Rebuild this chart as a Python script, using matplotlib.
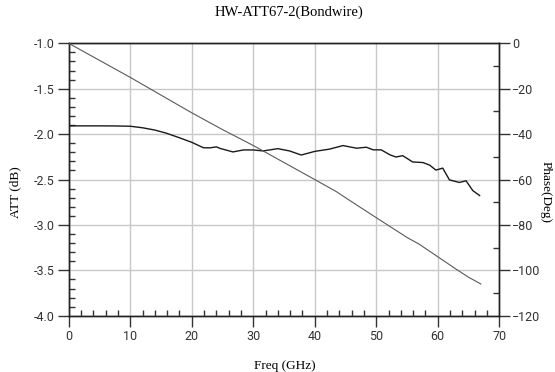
import numpy as np
import matplotlib.pyplot as plt
from matplotlib.ticker import MultipleLocator

# ATT (dB) versus frequency
freq_att = [0, 5, 7.5, 10, 12, 14, 15.9, 18, 20, 21.9, 23, 24, 24.6, 26.7, 28.4, 30,
            31.6, 34, 35.9, 37.8, 40, 42.4, 44.6, 46.8, 48.4, 49.5, 50.8, 52.2, 53.2,
            54.3, 55.9, 57.6, 58.7, 59.7, 60.8, 61.9, 63.5, 64.6, 65.7, 66.8]
att = [-1.909, -1.909, -1.910, -1.913, -1.93, -1.955, -1.99, -2.04, -2.09, -2.15, -2.151,
       -2.14, -2.157, -2.196, -2.174, -2.174, -2.185, -2.16, -2.185, -2.23, -2.19, -2.165,
       -2.126, -2.155, -2.144, -2.173, -2.173, -2.227, -2.252, -2.237, -2.306, -2.313,
       -2.342, -2.396, -2.374, -2.504, -2.532, -2.514, -2.622, -2.676]

# phase (deg) versus frequency
freq_ph = [0, 5, 10, 15, 20, 25, 30, 35, 40, 43.5, 45, 50, 55, 57, 60, 63, 65, 67]
phase = [0, -7.5, -15, -22.8, -30.6, -38, -45, -52.5, -60, -65.3, -68, -76.8, -85.5,
         -88.5, -94, -99.5, -103, -106]

plt.rcParams['font.family'] = ['Roboto', 'DejaVu Sans']

fig = plt.figure(figsize=(5.55, 3.72), dpi=100)
ax = fig.add_axes([0.1238, 0.1511, 0.7758, 0.7325])
ax2 = ax.twinx()

ax.plot(freq_att, att, color='#1a1a1a', lw=1.0, zorder=3)
ax2.plot(freq_ph, phase, color='#5a5a5a', lw=0.8, zorder=3)

ax.set_xlim(0, 70)
ax.set_ylim(-4.0, -1.0)
ax2.set_ylim(-120, 0)

ax.xaxis.set_major_locator(MultipleLocator(10))
ax.xaxis.set_minor_locator(MultipleLocator(2))
ax.yaxis.set_major_locator(MultipleLocator(0.5))
ax.yaxis.set_minor_locator(MultipleLocator(0.1))
ax2.yaxis.set_major_locator(MultipleLocator(20))
ax2.yaxis.set_minor_locator(MultipleLocator(10))

ax.grid(True, which='major', color='#c8c8c8', lw=1.0)
ax.set_axisbelow(True)

ax.tick_params(which='major', direction='out', length=8, width=1, labelsize=9,
               colors='#333333', pad=2)
ax.tick_params(which='minor', direction='in', length=4.5, width=1, colors='#333333')
ax2.tick_params(which='major', direction='out', length=8, width=1, labelsize=9,
                colors='#333333', pad=1)
ax2.tick_params(which='minor', direction='in', length=4.5, width=1, colors='#333333')

ax.set_yticklabels(['%.1f' % v for v in ax.get_yticks()])

for a in (ax, ax2):
    for s in a.spines.values():
        s.set_color('#222222')
        s.set_linewidth(1.0)

serif = ['Liberation Serif', 'DejaVu Serif']
fig.text(0.52, 0.967, 'HW-ATT67-2(Bondwire)', family=serif, fontsize=10.5,
         ha='center', va='center')
fig.text(0.027, 0.484, 'ATT (dB)', family=serif, fontsize=9.5, rotation=90,
         ha='center', va='center')
fig.text(0.513, 0.017, 'Freq (GHz)', family=serif, fontsize=9.5,
         ha='center', va='center')
fig.text(0.983, 0.484, 'Phase(Deg)', family=serif, fontsize=9.5, rotation=270,
         ha='center', va='center')

fig.savefig('out.png', dpi=100)
